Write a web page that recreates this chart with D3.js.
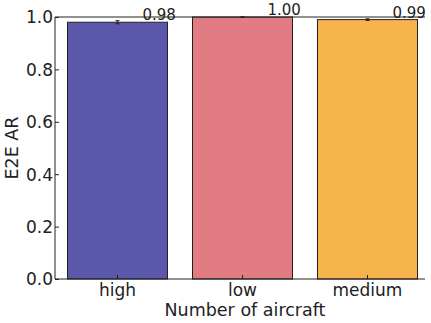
<!DOCTYPE html>
<meta charset="utf-8">
<script src="https://d3js.org/d3.v7.min.js"></script>
<style>
  body { margin: 0; background: #fff; }
  text { font-family: "DejaVu Sans", sans-serif; fill: #222; }
</style>
<div id="my_dataviz"></div>
<script>

// data
var categories = ["high", "low", "medium"];
var values = [0.98, 1.00, 0.99];
var errors = [0.006, 0.001, 0.003];
var barColors = ["#5b57ab", "#e27c84", "#f8b44c"];
var yTicks = [0.0, 0.2, 0.4, 0.6, 0.8, 1.0];

var W = 431, H = 323;
var margin = {left: 55, right: 430, top: 17, bottom: 279};

var svg = d3.select("#my_dataviz")
  .append("svg")
    .attr("width", W)
    .attr("height", H);

var x = d3.scaleBand()
  .domain(categories)
  .range([margin.left, margin.right])
  .paddingInner(0.2)
  .paddingOuter(0.1);

var y = d3.scaleLinear()
  .domain([0, 1])
  .range([margin.bottom, margin.top]);

// bars
svg.append("g")
  .selectAll("rect")
  .data(categories)
  .enter()
  .append("rect")
    .attr("x", function(d) { return x(d); })
    .attr("y", function(d, i) { return y(values[i]); })
    .attr("width", x.bandwidth())
    .attr("height", function(d, i) { return y(0) - y(values[i]); })
    .style("fill", function(d, i) { return barColors[i]; })
    .attr("stroke", "#222")
    .attr("stroke-width", 1);

// error bars
var eb = svg.append("g");
categories.forEach(function(c, i) {
  var cx = x(c) + x.bandwidth() / 2;
  eb.append("line")
    .attr("x1", cx).attr("x2", cx)
    .attr("y1", y(values[i] + errors[i])).attr("y2", y(values[i] - errors[i]))
    .attr("stroke", "#222").attr("stroke-width", 1);
  [values[i] + errors[i], values[i] - errors[i]].forEach(function(v) {
    eb.append("line")
      .attr("x1", cx - 2).attr("x2", cx + 2)
      .attr("y1", y(v)).attr("y2", y(v))
      .attr("stroke", "#222").attr("stroke-width", 1);
  });
});

// value labels
svg.append("g")
  .selectAll("text")
  .data(categories)
  .enter()
  .append("text")
    .attr("x", function(d) { return x(d) + x.bandwidth() / 2 + 25; })
    .attr("y", function(d, i) { return y(values[i]) - 2; })
    .style("font-size", "15px")
    .text(function(d, i) { return values[i].toFixed(2); });

// y axis (ticks inside)
var yAxis = svg.append("g")
  .attr("transform", "translate(" + margin.left + ",0)")
  .call(d3.axisLeft(y).tickValues(yTicks).tickSizeInner(-4).tickSizeOuter(0)
    .tickFormat(d3.format(".1f")));
yAxis.select(".domain").remove();
yAxis.selectAll(".tick line").attr("stroke", "#222");
yAxis.selectAll(".tick text").style("font-size", "17px").style("fill", "#222")
  .attr("x", -2).attr("dy", "0.35em");

// x axis (ticks inside)
var xAxis = svg.append("g")
  .attr("transform", "translate(0," + margin.bottom + ")")
  .call(d3.axisBottom(x).tickSizeInner(-4).tickSizeOuter(0));
xAxis.select(".domain").remove();
xAxis.selectAll(".tick line").attr("stroke", "#222");
xAxis.selectAll(".tick text").style("font-size", "17px").style("fill", "#222")
  .attr("y", 5);

// spines: left, bottom, top
var spineRight = 425;
svg.append("line").attr("x1", margin.left).attr("x2", margin.left)
  .attr("y1", margin.top).attr("y2", margin.bottom)
  .attr("stroke", "#222").attr("stroke-width", 1);
svg.append("line").attr("x1", margin.left).attr("x2", spineRight)
  .attr("y1", margin.bottom).attr("y2", margin.bottom)
  .attr("stroke", "#222").attr("stroke-width", 1);
svg.append("line").attr("x1", margin.left).attr("x2", spineRight)
  .attr("y1", margin.top).attr("y2", margin.top)
  .attr("stroke", "#222").attr("stroke-width", 1);

// axis titles
svg.append("text")
  .attr("text-anchor", "middle")
  .attr("x", 245)
  .attr("y", 316)
  .style("font-size", "17.5px")
  .text("Number of aircraft");

svg.append("text")
  .attr("text-anchor", "middle")
  .attr("transform", "translate(18," + ((margin.top + margin.bottom) / 2) + ") rotate(-90)")
  .style("font-size", "17.5px")
  .text("E2E AR");

</script>
